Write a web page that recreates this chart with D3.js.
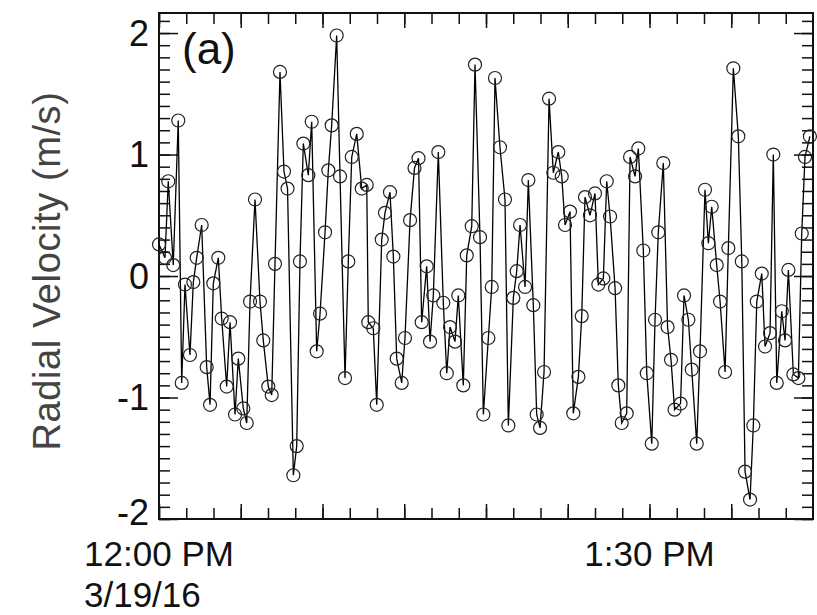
<!DOCTYPE html>
<html>
<head>
<meta charset="utf-8">
<script src="https://cdn.jsdelivr.net/npm/d3@7"></script>
<style>
  body { margin: 0; background: #fff; }
  text { font-family: "Liberation Sans", Arial, sans-serif; }
</style>
</head>
<body>
<div id="chart"></div>
<script>
// seconds after 12:00 PM, 3/19/16
const offsetsSec = [
  0, 66, 102, 157, 212, 250, 286, 341, 378, 415,
  470, 525, 562, 598, 653, 690, 745, 782, 837, 873,
  928, 966, 1002, 1057, 1112, 1148, 1203, 1241, 1277, 1332,
  1376, 1415, 1479, 1516, 1552, 1589, 1644, 1681, 1736, 1773,
  1828, 1864, 1901, 1956, 1993, 2048, 2084, 2122, 2177, 2232,
  2287, 2304, 2359, 2397, 2452, 2488, 2543, 2580, 2617, 2672,
  2708, 2764, 2813, 2857, 2892, 2947, 2984, 3020, 3075, 3130,
  3168, 3204, 3259, 3295, 3350, 3388, 3443, 3479, 3534, 3571,
  3626, 3663, 3699, 3754, 3809, 3846, 3901, 3938, 3975, 4030,
  4066, 4121, 4158, 4195, 4239, 4294, 4341, 4396, 4434, 4470,
  4525, 4561, 4617, 4654, 4690, 4745, 4800, 4837, 4892, 4929,
  4966, 5021, 5057, 5094, 5149, 5186, 5241, 5277, 5332, 5370,
  5425, 5461, 5497, 5552, 5599, 5637, 5676, 5742, 5780, 5828,
  5865, 5920, 5956, 6011, 6048, 6085, 6140, 6177, 6232, 6268,
  6323, 6378, 6416, 6452, 6507, 6543, 6581, 6636, 6672, 6727,
  6763, 6801, 6856, 6892, 6929, 6984, 7039, 7076, 7112, 7166,
];

// radial velocity, m/s
const velocities = [
  0.26, 0.15, 0.78, 0.09, 1.28, -0.88, -0.07, -0.65, -0.05, 0.15,
  0.42, -0.75, -1.06, -0.06, 0.15, -0.35, -0.91, -0.38, -1.14, -0.68,
  -1.09, -1.21, -0.21, 0.63, -0.21, -0.53, -0.91, -0.98, 0.10, 1.68,
  0.86, 0.72, -1.64, -1.40, 0.12, 1.09, 0.83, 1.27, -0.62, -0.31,
  0.36, 0.87, 1.24, 1.98, 0.82, -0.84, 0.12, 0.98, 1.17, 0.72,
  0.75, -0.38, -0.43, -1.06, 0.30, 0.52, 0.69, 0.16, -0.68, -0.88,
  -0.51, 0.46, 0.89, 0.97, -0.38, 0.08, -0.54, -0.16, 1.02, -0.22,
  -0.80, -0.42, -0.54, -0.16, -0.90, 0.17, 0.41, 1.74, 0.32, -1.14,
  -0.51, -0.09, 1.63, 1.06, 0.63, -1.23, -0.18, 0.04, 0.42, -0.09,
  0.79, -0.24, -1.14, -1.25, -0.79, 1.46, 0.85, 1.02, 0.82, 0.42,
  0.53, -1.13, -0.83, -0.33, 0.65, 0.50, 0.68, -0.07, -0.02, 0.78,
  0.49, -0.10, -0.90, -1.21, -1.13, 0.98, 0.82, 1.05, 0.21, -0.80,
  -1.38, -0.36, 0.36, 0.93, -0.42, -0.69, -1.10, -1.05, -0.16, -0.36,
  -0.77, -1.38, -0.62, 0.71, 0.27, 0.57, 0.09, -0.21, -0.79, 0.23,
  1.71, 1.15, 0.12, -1.61, -1.84, -1.23, -0.21, 0.02, -0.58, -0.47,
  1.00, -0.88, -0.29, -0.53, 0.05, -0.81, -0.84, 0.35, 0.98, 1.15,
];

const yTickValues = [-2, -1, 0, 1, 2];
const xLabelTimes = ['12:00', '13:30'];
const dateLabel = '3/19/16';

const startTime = new Date(2016, 2, 19, 12, 0, 0);
const endTime = new Date(2016, 2, 19, 14, 0, 0);

function drawChart() {
  const width = 817,
    height = 615,
    left = 159,
    right = 813,
    top = 13,
    bottom = 519;

  const data = offsetsSec.map((s, i) => ({
    time: new Date(startTime.getTime() + s * 1000),
    v: velocities[i],
  }));

  const xScale = d3.scaleTime().domain([startTime, endTime]).range([left, right]);
  const yScale = d3.scaleLinear().domain([-2, 2.165]).range([bottom, top]);

  const svg = d3
    .select('#chart')
    .append('svg')
    .attr('width', width)
    .attr('height', height);

  const minorX = d3.timeMinute.every(5).range(startTime, endTime);
  const majorX = d3.timeMinute.every(15).range(startTime, endTime);
  const minorY = d3.range(-20, 22).map((i) => i / 10);

  const tickAxis = (axis, vals, size, transform) => {
    svg
      .append('g')
      .attr('transform', transform)
      .call(axis.tickValues(vals).tickSize(size).tickFormat(''))
      .call((g) => g.select('.domain').remove())
      .call((g) => g.selectAll('line').attr('stroke', '#111').attr('stroke-width', 1.5));
  };

  // inward ticks on all four sides
  tickAxis(d3.axisBottom(xScale), minorX, -11, `translate(0,${bottom})`);
  tickAxis(d3.axisBottom(xScale), majorX, -15, `translate(0,${bottom})`);
  tickAxis(d3.axisTop(xScale), minorX, -11, `translate(0,${top})`);
  tickAxis(d3.axisTop(xScale), majorX, -15, `translate(0,${top})`);
  tickAxis(d3.axisLeft(yScale), minorY, -11, `translate(${left},0)`);
  tickAxis(d3.axisLeft(yScale), yTickValues, -19, `translate(${left},0)`);
  tickAxis(d3.axisRight(yScale), minorY, -11, `translate(${right},0)`);
  tickAxis(d3.axisRight(yScale), yTickValues, -19, `translate(${right},0)`);

  svg
    .append('rect')
    .attr('x', left)
    .attr('y', top)
    .attr('width', right - left)
    .attr('height', bottom - top)
    .attr('fill', 'none')
    .attr('stroke', '#111')
    .attr('stroke-width', 2);

  // y tick labels (the bottom one sits a little higher, as in the original)
  svg
    .append('g')
    .selectAll('text')
    .data(yTickValues)
    .enter()
    .append('text')
    .attr('x', left - 10)
    .attr('y', (d) => yScale(d) - (d === -2 ? 7 : 0))
    .attr('dy', '0.36em')
    .attr('text-anchor', 'end')
    .attr('font-size', 36)
    .attr('fill', '#111')
    .text((d) => d);

  // x tick labels
  const parseHM = d3.timeParse('%Y-%m-%d %H:%M');
  const fmtTime = d3.timeFormat('%-I:%M %p');
  xLabelTimes.forEach((t) => {
    const d = parseHM(`2016-03-19 ${t}`);
    svg
      .append('text')
      .attr('x', xScale(d))
      .attr('y', 566)
      .attr('text-anchor', 'middle')
      .attr('font-size', 35)
      .attr('fill', '#111')
      .text(fmtTime(d));
  });

  svg
    .append('text')
    .attr('x', 84)
    .attr('y', 607)
    .attr('font-size', 35)
    .attr('fill', '#111')
    .text(dateLabel);

  svg
    .append('text')
    .attr('transform', 'rotate(-90)')
    .attr('x', -271)
    .attr('y', 60)
    .attr('text-anchor', 'middle')
    .attr('font-size', 38)
    .attr('letter-spacing', 0.6)
    .attr('fill', '#444')
    .text('Radial Velocity (m/s)');

  svg
    .append('text')
    .attr('x', 182)
    .attr('y', 64)
    .attr('font-size', 44)
    .attr('fill', '#111')
    .text('(a)');

  const line = d3
    .line()
    .x((d) => xScale(d.time))
    .y((d) => yScale(d.v));

  svg
    .append('path')
    .datum(data)
    .attr('d', line)
    .attr('fill', 'none')
    .attr('stroke', '#000')
    .attr('stroke-width', 1.3);

  svg
    .append('g')
    .selectAll('circle')
    .data(data)
    .enter()
    .append('circle')
    .attr('cx', (d) => xScale(d.time))
    .attr('cy', (d) => yScale(d.v))
    .attr('r', 6.5)
    .attr('fill', 'none')
    .attr('stroke', '#222')
    .attr('stroke-width', 1.2);
}

drawChart();
</script>
</body>
</html>
